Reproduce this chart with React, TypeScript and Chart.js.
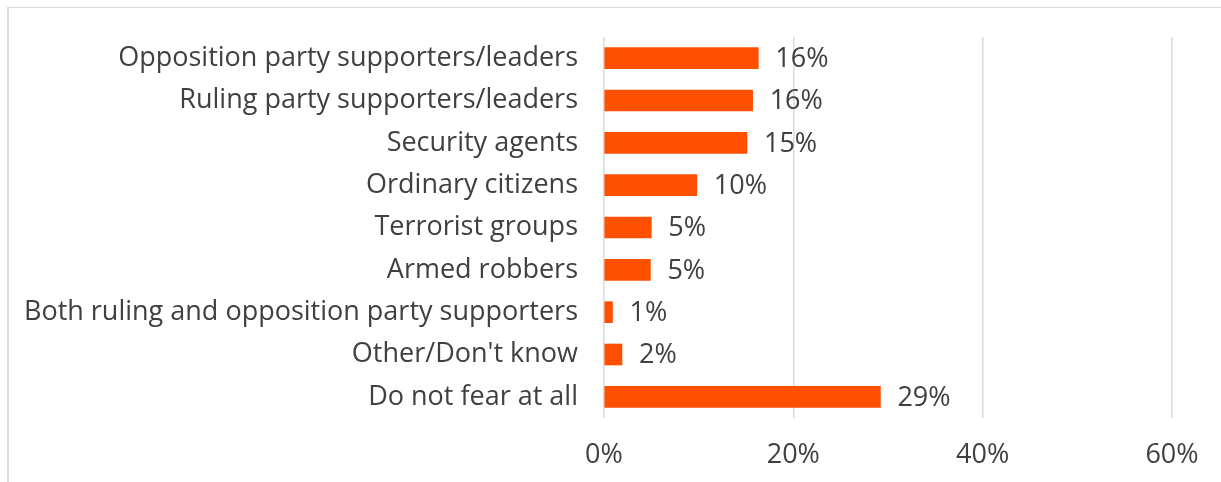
import React, { useEffect, useRef } from "react";
import { Chart, registerables } from "chart.js";

Chart.register(...registerables);

const categories = [
  "Opposition party supporters/leaders",
  "Ruling party supporters/leaders",
  "Security agents",
  "Ordinary citizens",
  "Terrorist groups",
  "Armed robbers",
  "Both ruling and opposition party supporters",
  "Other/Don't know",
  "Do not fear at all",
];
const values = [16.3, 15.7, 15.1, 9.8, 5.0, 4.9, 0.9, 1.9, 29.2];
const valueLabels = ["16%", "16%", "15%", "10%", "5%", "5%", "1%", "2%", "29%"];
const xTicks = [0, 20, 40, 60];

const FONT = "'Open Sans', sans-serif";
const TEXT = "#404040";
const BAR = "#FF5000";
const GRID = "#d9d9d9";
const SIZE = 27;

const valueLabelPlugin = {
  id: "valueLabels",
  afterDatasetsDraw(chart: any) {
    const ctx = chart.ctx;
    const meta = chart.getDatasetMeta(0);
    ctx.save();
    ctx.font = `${SIZE}px ${FONT}`;
    ctx.fillStyle = TEXT;
    ctx.textAlign = "left";
    ctx.textBaseline = "middle";
    meta.data.forEach((bar: any, i: number) => {
      ctx.fillText(valueLabels[i], bar.x + 17, bar.y + 1);
    });
    ctx.restore();
  },
};

export default function App() {
  const ref = useRef<HTMLCanvasElement>(null);
  useEffect(() => {
    if (!ref.current) return;
    const chart = new Chart(ref.current, {
      type: "bar",
      data: {
        labels: categories,
        datasets: [
          {
            data: values,
            backgroundColor: BAR,
            borderWidth: 0,
            barThickness: 21,
          },
        ],
      },
      plugins: [valueLabelPlugin],
      options: {
        indexAxis: "y",
        responsive: false,
        animation: false,
        layout: { padding: { top: 37, right: 49, left: 0, bottom: 0 } },
        plugins: { legend: { display: false }, tooltip: { enabled: false } },
        scales: {
          x: {
            min: 0,
            max: 60,
            afterBuildTicks(scale: any) {
              scale.ticks = xTicks.map((v) => ({ value: v }));
            },
            afterFit(scale: any) {
              scale.height = 64;
              scale.paddingLeft = 0;
              scale.paddingRight = 0;
            },
            grid: { color: GRID, lineWidth: 1.5, drawTicks: false },
            border: { display: false },
            ticks: {
              padding: 21,
              color: TEXT,
              font: { family: FONT, size: SIZE },
              callback: (v: any) => `${v}%`,
            },
          },
          y: {
            afterFit(scale: any) {
              scale.width = 604;
              scale.paddingTop = 0;
              scale.paddingBottom = 0;
            },
            grid: { display: false, drawTicks: false },
            border: { display: false },
            ticks: {
              padding: 26,
              color: TEXT,
              font: { family: FONT, size: SIZE },
            },
          },
        },
      },
    });
    return () => chart.destroy();
  }, []);
  return (
    <div>
      <canvas
        ref={ref}
        width={1221}
        height={482}
        style={{ position: "fixed", left: 0, top: 0, width: 1221, height: 482 }}
      />
      <div style={{ position: "fixed", left: 7, top: 7, width: 1214, height: 1, background: GRID }} />
      <div style={{ position: "fixed", left: 7, top: 7, width: 2, height: 475, background: "#dedede" }} />
    </div>
  );
}
